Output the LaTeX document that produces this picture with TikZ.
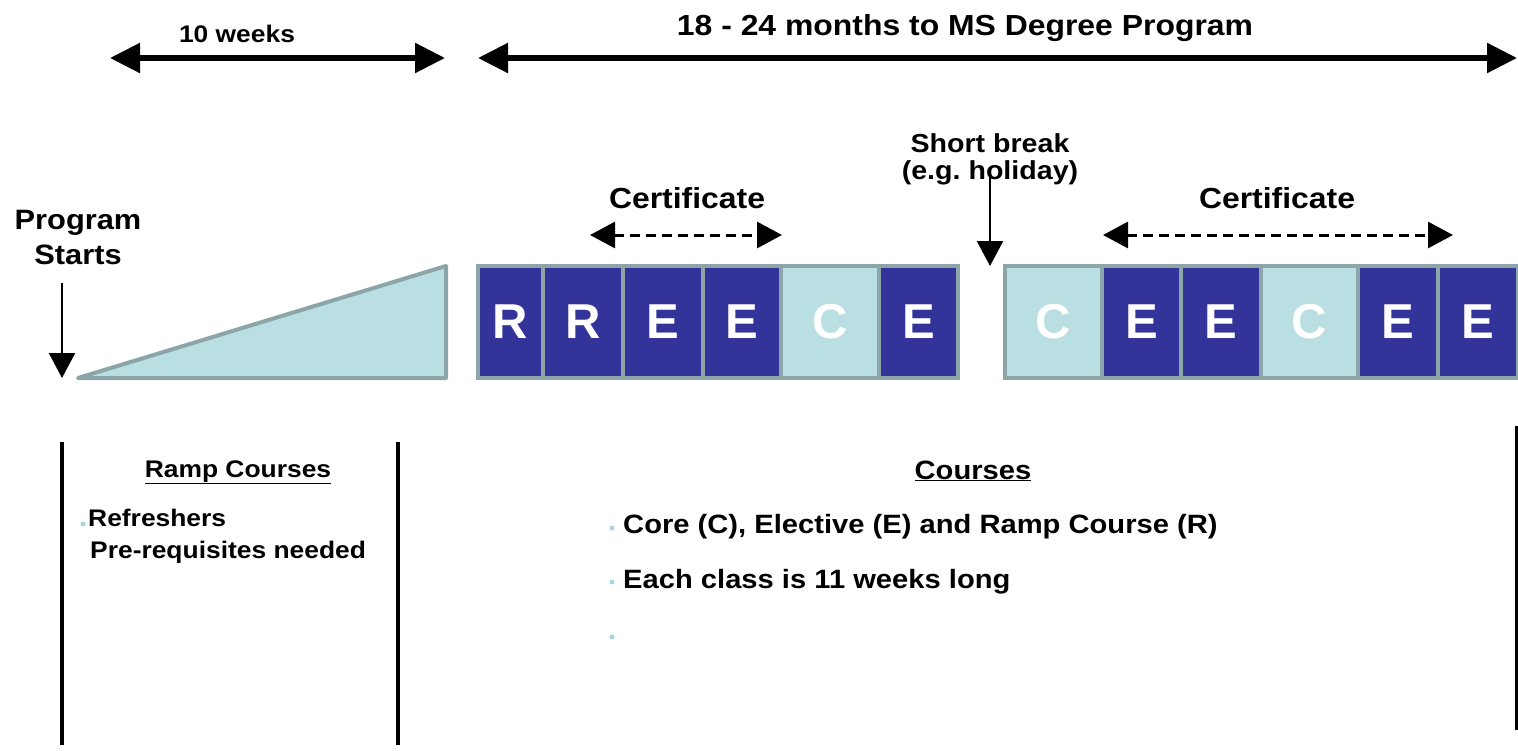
\documentclass[tikz,border=0pt]{standalone}
\usepackage{fontspec}
\setmainfont{Liberation Sans}
\newfontfamily\widesans{Liberation Sans}[FakeStretch=1.1]
\usetikzlibrary{arrows.meta}
\definecolor{navy}{HTML}{333399}
\definecolor{pale}{HTML}{B9DFE3}
\definecolor{slate}{HTML}{8BA5A8}
\definecolor{dotc}{HTML}{A8D6DE}
\newcommand{\fs}[1]{\widesans\bfseries\fontsize{#1}{#1}\selectfont}
\tikzset{
  blk/.style={rectangle, draw=slate, line width=4pt, minimum height=112, inner sep=0pt,
    text=white, font=\bfseries\fontsize{49}{49}\selectfont},
  dk/.style={blk, fill=navy},
  lt/.style={blk, fill=pale},
  lbl/.style={inner sep=0pt},
  span/.style={line width=5.5pt, {Triangle[length=30pt,width=29pt]}-{Triangle[length=30pt,width=29pt]}},
  cert/.style={line width=3pt, dash pattern=on 10pt off 6pt, {Triangle[length=25pt,width=26pt]}-{Triangle[length=25pt,width=26pt]}},
  pointer/.style={line width=2pt, -{Triangle[length=25pt,width=26pt]}},
}
\begin{document}
\begin{tikzpicture}[x=1pt,y=-1pt]
  \useasboundingbox (0,0) rectangle (1518,750);

  \node[lbl, anchor=base, font=\fs{24}] (weeks) at (237,42) {10 weeks};
  \node[lbl, anchor=base, font=\fs{29}] (months) at (965,35) {18 - 24 months to MS Degree Program};
  \coordinate (w0) at (110,58);
  \coordinate (w1) at (445,58);
  \coordinate (m0) at (478,58);
  \coordinate (m1) at (1517,58);
  \draw[span] (w0) -- (w1);
  \draw[span] (m0) -- (m1);

  \node[lbl, align=center, font=\widesans\bfseries\fontsize{28}{35}\selectfont] (start) at (78,237.5) {Program\\Starts};
  \coordinate (s0) at (62,283);
  \coordinate (s1) at (62,378);
  \draw[pointer] (s0) -- (s1);

  \draw[slate, fill=pale, line width=4pt, line join=round] (78,378) -- (446,266) -- (446,378) -- cycle;

  \foreach \x/\w/\s/\t [count=\i] in {510.5/65/dk/R, 583/80/dk/R, 663/80/dk/E, 742/78/dk/E, 830/98/lt/C, 918.5/79/dk/E}
    \node[\s, minimum width=\w] (b\i) at (\x,322) {\t};
  \foreach \x/\w/\s/\t [count=\i] in {1053.5/97/lt/C, 1141.5/79/dk/E, 1221/80/dk/E, 1309.5/97/lt/C, 1398/80/dk/E, 1478/80/dk/E}
    \node[\s, minimum width=\w] (c\i) at (\x,322) {\t};

  \node[lbl, anchor=base, font=\fs{29}] (cert1) at (687,208) {Certificate};
  \node[lbl, anchor=base, font=\fs{29}] (cert2) at (1277,208) {Certificate};
  \coordinate (p0) at (590,235);
  \coordinate (p1) at (782,235);
  \coordinate (q0) at (1103,235);
  \coordinate (q1) at (1453,235);
  \draw[cert] (p0) -- (p1);
  \draw[cert] (q0) -- (q1);

  \node[lbl, align=center, font=\widesans\bfseries\fontsize{26}{27}\selectfont] (brk) at (990,159.5) {Short break\\(e.g.\ holiday)};
  \coordinate (k0) at (990,177);
  \coordinate (k1) at (990,266);
  \draw[pointer] (k0) -- (k1);

  \draw[line width=3.5pt] (62,442) -- (62,745);
  \draw[line width=3.5pt] (398,442) -- (398,745);
  \draw[line width=2.5pt] (1516.5,426) -- (1516.5,730);

  \node[lbl, anchor=base, font=\fs{24}] (ramp) at (238,477) {\underline{Ramp Courses}};
  \fill[dotc] (83,524) circle (2.5);
  \node[lbl, anchor=base west, font=\fs{24}] (refr) at (88,526) {Refreshers};
  \node[lbl, anchor=base west, font=\fs{24}] (prereq) at (90,558) {Pre-requisites needed};

  \node[lbl, anchor=base, font=\fs{26.5}] (courses) at (973,479) {\underline{Courses}};
  \foreach \y in {528,582,637}
    \fill[dotc] (612,\y) circle (2.5);
  \node[lbl, anchor=base west, font=\fs{26.5}] (core) at (623,533) {Core (C), Elective (E) and Ramp Course (R)};
  \node[lbl, anchor=base west, font=\fs{26.5}] (each) at (623,588) {Each class is 11 weeks long};
\end{tikzpicture}
\end{document}
